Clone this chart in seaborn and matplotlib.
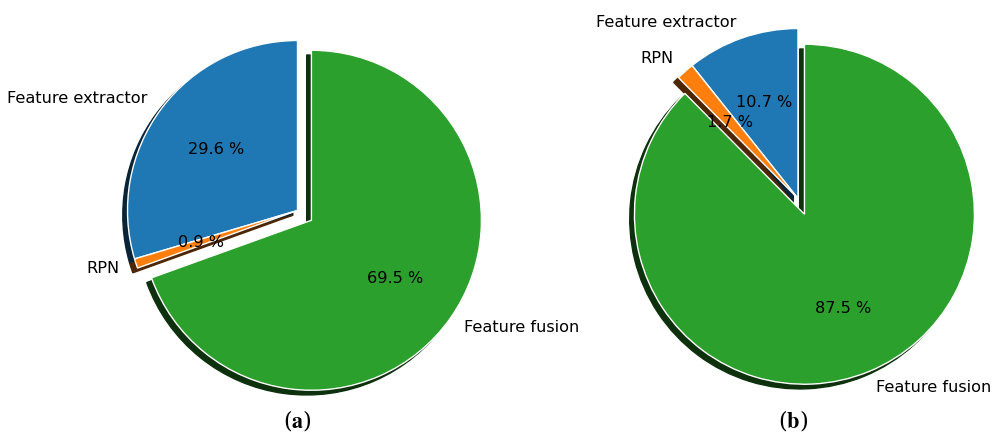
import matplotlib
matplotlib.use("Agg")
import matplotlib.pyplot as plt
import seaborn as sns

sns.set_style("white")
plt.rcParams["font.family"] = ["DejaVu Sans"]
plt.rcParams["text.color"] = "black"
plt.rcParams["mathtext.fontset"] = "stix"

# Share of processing time per stage
stages = ["Feature extractor", "RPN", "Feature fusion"]
share_a = [29.6, 0.9, 69.5]
share_b = [10.7, 1.7, 87.5]
captions = ["a", "b"]

colors = sns.color_palette("tab10", 3)
explode = (0, 0, 0.1)

fig = plt.figure(figsize=(9.93, 4.37), dpi=100)
ax_a = fig.add_axes([0.0856, 0.0321, 0.4280, 0.9725])
ax_b = fig.add_axes([0.5896, 0.0595, 0.4280, 0.9725])


def value_label(values):
    # print each wedge's own value rather than the renormalised percentage
    it = iter(values)
    return lambda pct: f"{next(it):.1f} %"


for ax, share in zip([ax_a, ax_b], [share_a, share_b]):
    ax.pie(share, labels=stages, colors=colors, explode=explode,
           autopct=value_label(share),
           shadow={"ox": -0.02, "oy": -0.02, "shade": 0.7, "alpha": 1.0},
           startangle=90, textprops={"fontsize": 11.6, "color": "black"})
    ax.set_aspect("equal")

for x, cap in zip([0.299, 0.799], captions):
    fig.text(x, 0.037, rf"($\mathbf{{{cap}}}$)", ha="center", va="center",
             fontsize=16, family="serif", color="black")

fig.savefig("out.png", dpi=100)
